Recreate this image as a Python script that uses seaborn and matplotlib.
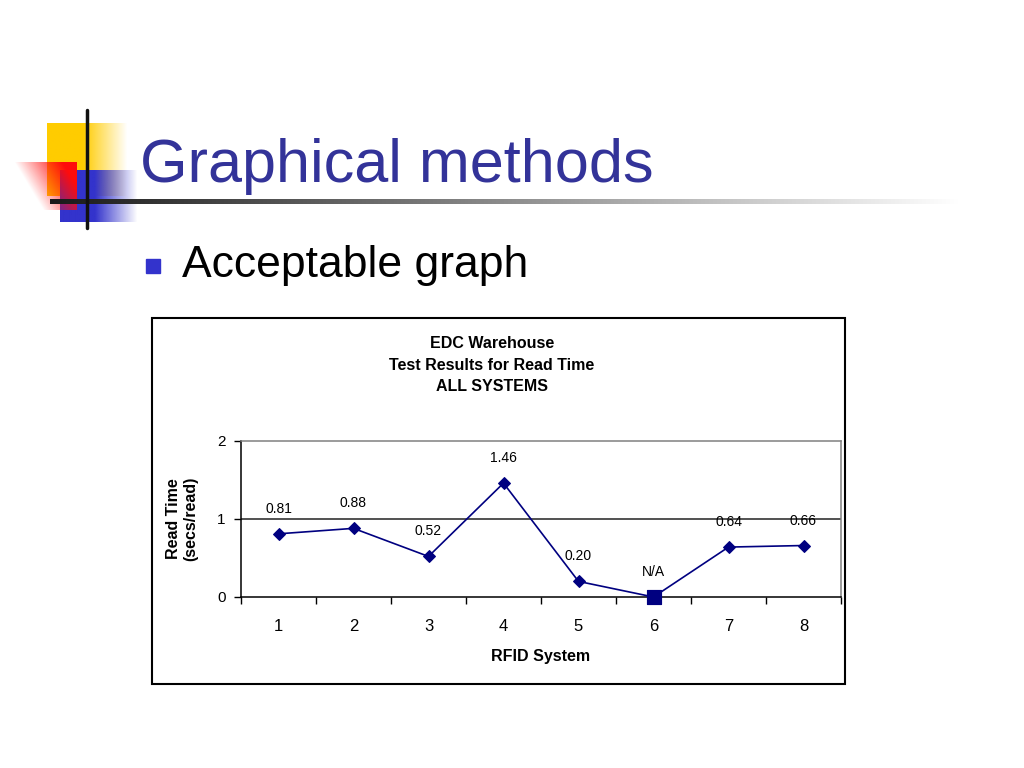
import numpy as np
import pandas as pd
import matplotlib
matplotlib.use("Agg")
import matplotlib.pyplot as plt
import seaborn as sns

# chart data
systems = ["1", "2", "3", "4", "5", "6", "7", "8"]
read_time = [0.81, 0.88, 0.52, 1.46, 0.20, 0.0, 0.64, 0.66]
point_labels = ["0.81", "0.88", "0.52", "1.46", "0.20", "N/A", "0.64", "0.66"]
missing_system = "6"
y_ticks = [0, 1, 2]

slide_title = "Graphical methods"
bullet_text = "Acceptable graph"
chart_title = "EDC Warehouse\nTest Results for Read Time\nALL SYSTEMS"

sns.set_theme(style="white")
plt.rcParams["font.family"] = ["Liberation Sans", "DejaVu Sans"]
plt.rcParams["text.color"] = "black"
plt.rcParams["xtick.color"] = "black"
plt.rcParams["ytick.color"] = "black"

W, H = 1024, 768
fig = plt.figure(figsize=(W / 100, H / 100), dpi=100)
fig.patch.set_facecolor("white")

# background layer in pixel coords for slide decorations
bg = fig.add_axes([0, 0, 1, 1])
bg.set_xlim(0, W)
bg.set_ylim(H, 0)
bg.axis("off")


def grad_rect(x0, x1, y0, y1, rgb, direction):
    n = 64
    t = np.linspace(0, 1, n)
    if direction == "right":      # solid on left, fades right
        a = np.clip(1 - (t - 0.45) / 0.55, 0, 1)[None, :]
    else:                         # solid top-right, fades left/down
        tx = np.linspace(0, 1, n)[None, :]
        ty = np.linspace(0, 1, n)[:, None]
        a = np.clip(tx * 1.3 - ty * 0.6, 0, 1)
    img = np.zeros(a.shape + (4,))
    img[..., :3] = rgb
    img[..., 3] = a
    bg.imshow(img, extent=(x0, x1, y1, y0), aspect="auto", interpolation="bilinear", zorder=1)


grad_rect(47, 128, 123, 196, (1.0, 0.8, 0.0), "right")
grad_rect(60, 138, 170, 222, (0.2, 0.2, 0.8), "right")
grad_rect(14, 77, 162, 210, (1.0, 0.05, 0.05), "red")

# gradient rule under the title
n = 200
line_img = np.zeros((1, n, 4))
tt = np.linspace(0, 1, n)
line_img[..., :3] = (np.clip(0.1 + tt * 0.9, 0, 1))[None, :, None]
line_img[..., 3] = 1
bg.imshow(line_img, extent=(50, 960, 204, 199), aspect="auto", interpolation="bilinear", zorder=2)
bg.plot([87, 87], [110, 228], color="#111111", lw=2.5, zorder=3)

bg.text(140, 182, slide_title, fontsize=44, color="#333399", va="baseline", ha="left", zorder=4)
bg.add_patch(plt.Rectangle((146, 259), 14, 14, color="#3333CC", zorder=4))
bg.text(182, 277, bullet_text, fontsize=32, color="black", va="baseline", ha="left", zorder=4)

# chart frame and texts
bg.add_patch(plt.Rectangle((152, 318), 693, 366, fill=False, ec="black", lw=1.5, zorder=4))
bg.text(492, 365, chart_title, fontsize=11.5, fontweight="bold", ha="center", va="center",
        linespacing=1.55, zorder=4)
bg.text(541, 656, "RFID System", fontsize=11.5, fontweight="bold", ha="center", va="center", zorder=4)
bg.text(182, 519, "Read Time\n(secs/read)", fontsize=11.5, fontweight="bold", ha="center",
        va="center", rotation=90, linespacing=1.2, zorder=4)

# plot area
ax = fig.add_axes([241 / W, 1 - 597 / H, 600 / W, 156 / H])
ax.set_facecolor("none")
df = pd.DataFrame({"system": systems, "read_time": read_time, "label": point_labels})
df["pos"] = np.arange(len(df))

sns.lineplot(data=df, x="pos", y="read_time", ax=ax, color="#000080", lw=1.2,
             marker="D", markersize=6, markeredgecolor="#000080", zorder=5)
na = df[df["system"] == missing_system]
sns.scatterplot(data=na, x="pos", y="read_time", ax=ax, marker="s", s=110,
                color="#000080", edgecolor="#000080", zorder=6, clip_on=False)

for _, r in df.iterrows():
    ax.annotate(r["label"], (r["pos"], r["read_time"]), xytext=(0, 25),
                textcoords="offset pixels", ha="center", va="center",
                fontsize=10, color="black")

ax.set_xlim(-0.5, len(df) - 0.5)
ax.set_ylim(0, 2)
ax.axhline(1, color="#222222", lw=1.1, zorder=2)
ax.set_xticks(np.arange(len(df) + 1) - 0.5)
ax.set_xticklabels([])
ax.set_xticks(df["pos"], minor=True)
ax.set_xticklabels(systems, minor=True, fontsize=12)
ax.tick_params(axis="x", which="major", direction="out", length=5, width=1, color="black", bottom=True)
ax.tick_params(axis="x", which="minor", length=0, pad=16)
ax.set_yticks(y_ticks)
ax.set_yticklabels([str(v) for v in y_ticks], fontsize=11)
ax.tick_params(axis="y", direction="out", length=5, width=1, color="black", left=True, pad=6)
ax.set_xlabel("")
ax.set_ylabel("")
for s in ["left", "bottom"]:
    ax.spines[s].set_color("black")
    ax.spines[s].set_linewidth(1.1)
for s in ["top", "right"]:
    ax.spines[s].set_color("#808080")
    ax.spines[s].set_linewidth(1.1)

fig.savefig("out.png", dpi=100)
